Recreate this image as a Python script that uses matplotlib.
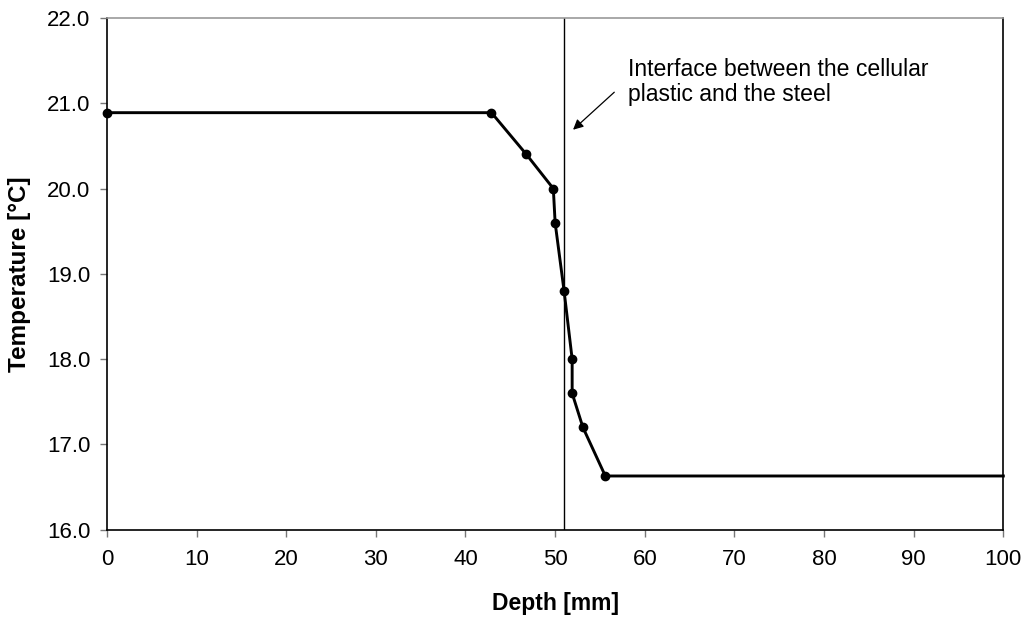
import numpy as np
import matplotlib.pyplot as plt

plt.rcParams['font.family'] = ['Liberation Sans', 'DejaVu Sans']

# measured profile
depth = [0.0, 42.9, 46.8, 49.8, 50.0, 51.0, 51.9, 51.9, 53.1, 55.6, 100.0]
temp = [20.89, 20.89, 20.40, 20.00, 19.60, 18.80, 18.00, 17.60, 17.20, 16.63, 16.63]
interface = 51.0

fig = plt.figure(figsize=(10.28, 6.21), dpi=100)
ax = fig.add_axes([0.104, 0.147, 0.872, 0.824])

ax.plot(depth, temp, color='black', lw=2.1, clip_on=False)
ax.plot(depth[:-1], temp[:-1], 'o', color='black', ms=6, clip_on=False)
ax.axvline(interface, color='black', lw=1.0)

ax.annotate('', xy=(52.0, 20.69), xytext=(56.6, 21.13),
            arrowprops=dict(arrowstyle='-|>', color='black', lw=0.9,
                            mutation_scale=15, shrinkA=0, shrinkB=0))
ax.text(58.1, 21.53, 'Interface between the cellular\nplastic and the steel',
        fontsize=16.6, va='top', ha='left', linespacing=1.1)

ax.set_xlim(0, 100)
ax.set_ylim(16, 22)
ax.set_xticks(np.arange(0, 101, 10))
ax.set_yticks(np.arange(16, 22.1, 1))
ax.set_yticklabels(['%.1f' % v for v in np.arange(16, 22.1, 1)])
ax.tick_params(direction='out', length=5, width=1, color='#777777',
               labelsize=16)
ax.tick_params(axis='y', pad=7)
ax.tick_params(axis='x', pad=9)

ax.set_xlabel('Depth [mm]', fontsize=16.5, fontweight='bold')
ax.set_ylabel('Temperature [°C]', fontsize=17.5, fontweight='bold')
ax.xaxis.set_label_coords(0.5, -0.121)
ax.yaxis.set_label_coords(-0.085, 0.5)

for s in ['left', 'bottom', 'right']:
    ax.spines[s].set_color('black')
    ax.spines[s].set_linewidth(1.2)
ax.spines['top'].set_color('#999999')
ax.spines['top'].set_linewidth(1.2)

fig.savefig('out.png', dpi=100)
